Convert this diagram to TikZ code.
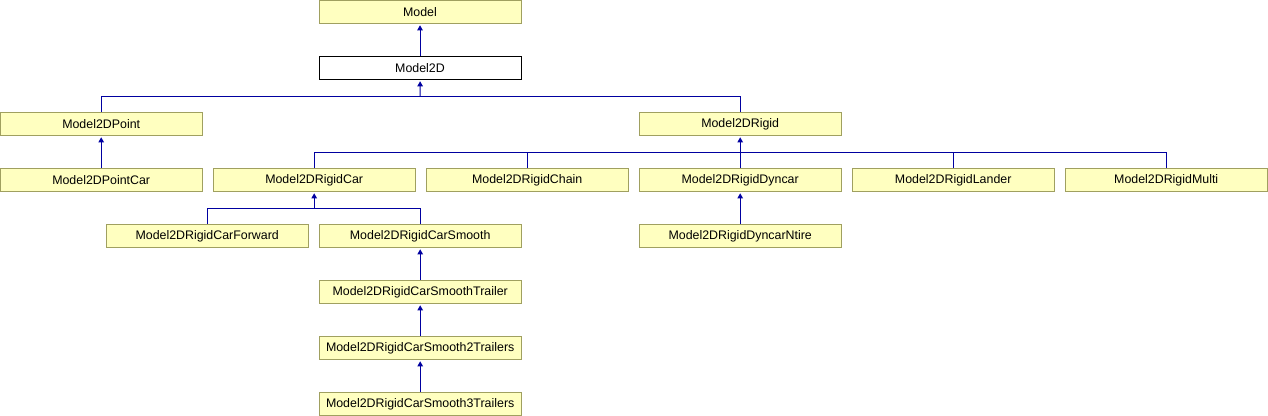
\documentclass[tikz,border=0pt]{standalone}
\usepackage{fontspec}
\setmainfont{Liberation Sans}
\usepackage{tikz}
\usetikzlibrary{arrows.meta}

\definecolor{boxfill}{RGB}{255,255,192}
\definecolor{boxline}{RGB}{160,160,96}
\definecolor{edgeblue}{RGB}{0,0,160}

\tikzset{
  cls/.style={draw=boxline, fill=boxfill, line width=0.75pt, minimum width=151.5pt, minimum height=17.25pt, inner sep=0pt, font=\fontsize{9.3}{11}\selectfont},
  curcls/.style={cls, draw=black, fill=white},
  edge/.style={draw=edgeblue, line width=0.75pt},
  inherit/.style={edge, -{Triangle[length=3.9pt,width=4.2pt]}, shorten >=1.1pt}
}

\begin{document}
\begin{tikzpicture}[x=0.75pt,y=0.75pt,yscale=-1]
\useasboundingbox (0,0) rectangle (1268,416);

% Class Nodes
\node [cls] (model) at (420,11.8) {Model};
\node [curcls] (m2d) at (420,67.8) {Model2D};
\node [cls] (point) at (101.2,123.8) {Model2DPoint};
\node [cls] (rigid) at (740.2,123.8) {Model2DRigid};
\node [cls] (pointcar) at (101.2,179.8) {Model2DPointCar};
\node [cls] (rigidcar) at (314.2,179.8) {Model2DRigidCar};
\node [cls] (chain) at (527.2,179.8) {Model2DRigidChain};
\node [cls] (dyncar) at (740.2,179.8) {Model2DRigidDyncar};
\node [cls] (lander) at (953.2,179.8) {Model2DRigidLander};
\node [cls] (multi) at (1166.2,179.8) {Model2DRigidMulti};
\node [cls] (forward) at (207.2,235.8) {Model2DRigidCarForward};
\node [cls] (smooth) at (420.2,235.8) {Model2DRigidCarSmooth};
\node [cls] (ntire) at (740.2,235.8) {Model2DRigidDyncarNtire};
\node [cls] (trailer) at (420.2,291.8) {Model2DRigidCarSmoothTrailer};
\node [cls] (trailers2) at (420.2,347.8) {Model2DRigidCarSmooth2Trailers};
\node [cls] (trailers3) at (420.2,403.8) {Model2DRigidCarSmooth3Trailers};

% Bus Points
\coordinate (busm2d) at (420.2,96.3);
\coordinate (busrigid) at (740.2,152.3);
\coordinate (busrigidcar) at (314.2,208.3);

% Single Arrows
\draw [inherit] (m2d) -- (model);
\draw [inherit] (pointcar) -- (point);
\draw [inherit] (ntire) -- (dyncar);
\draw [inherit] (trailer) -- (smooth);
\draw [inherit] (trailers2) -- (trailer);
\draw [inherit] (trailers3) -- (trailers2);

% Bus Lines
\draw [edge] (point.north) |- (busm2d) -| (rigid.north);
\draw [inherit] (busm2d) -- (m2d);
\draw [edge] (rigidcar.north) |- (busrigid) -| (multi.north);
\draw [edge] (chain.north) -- (chain.north |- busrigid);
\draw [edge] (lander.north) -- (lander.north |- busrigid);
\draw [inherit] (dyncar) -- (rigid);
\draw [edge] (forward.north) |- (busrigidcar) -| (smooth.north);
\draw [inherit] (busrigidcar) -- (rigidcar);

\end{tikzpicture}
\end{document}
